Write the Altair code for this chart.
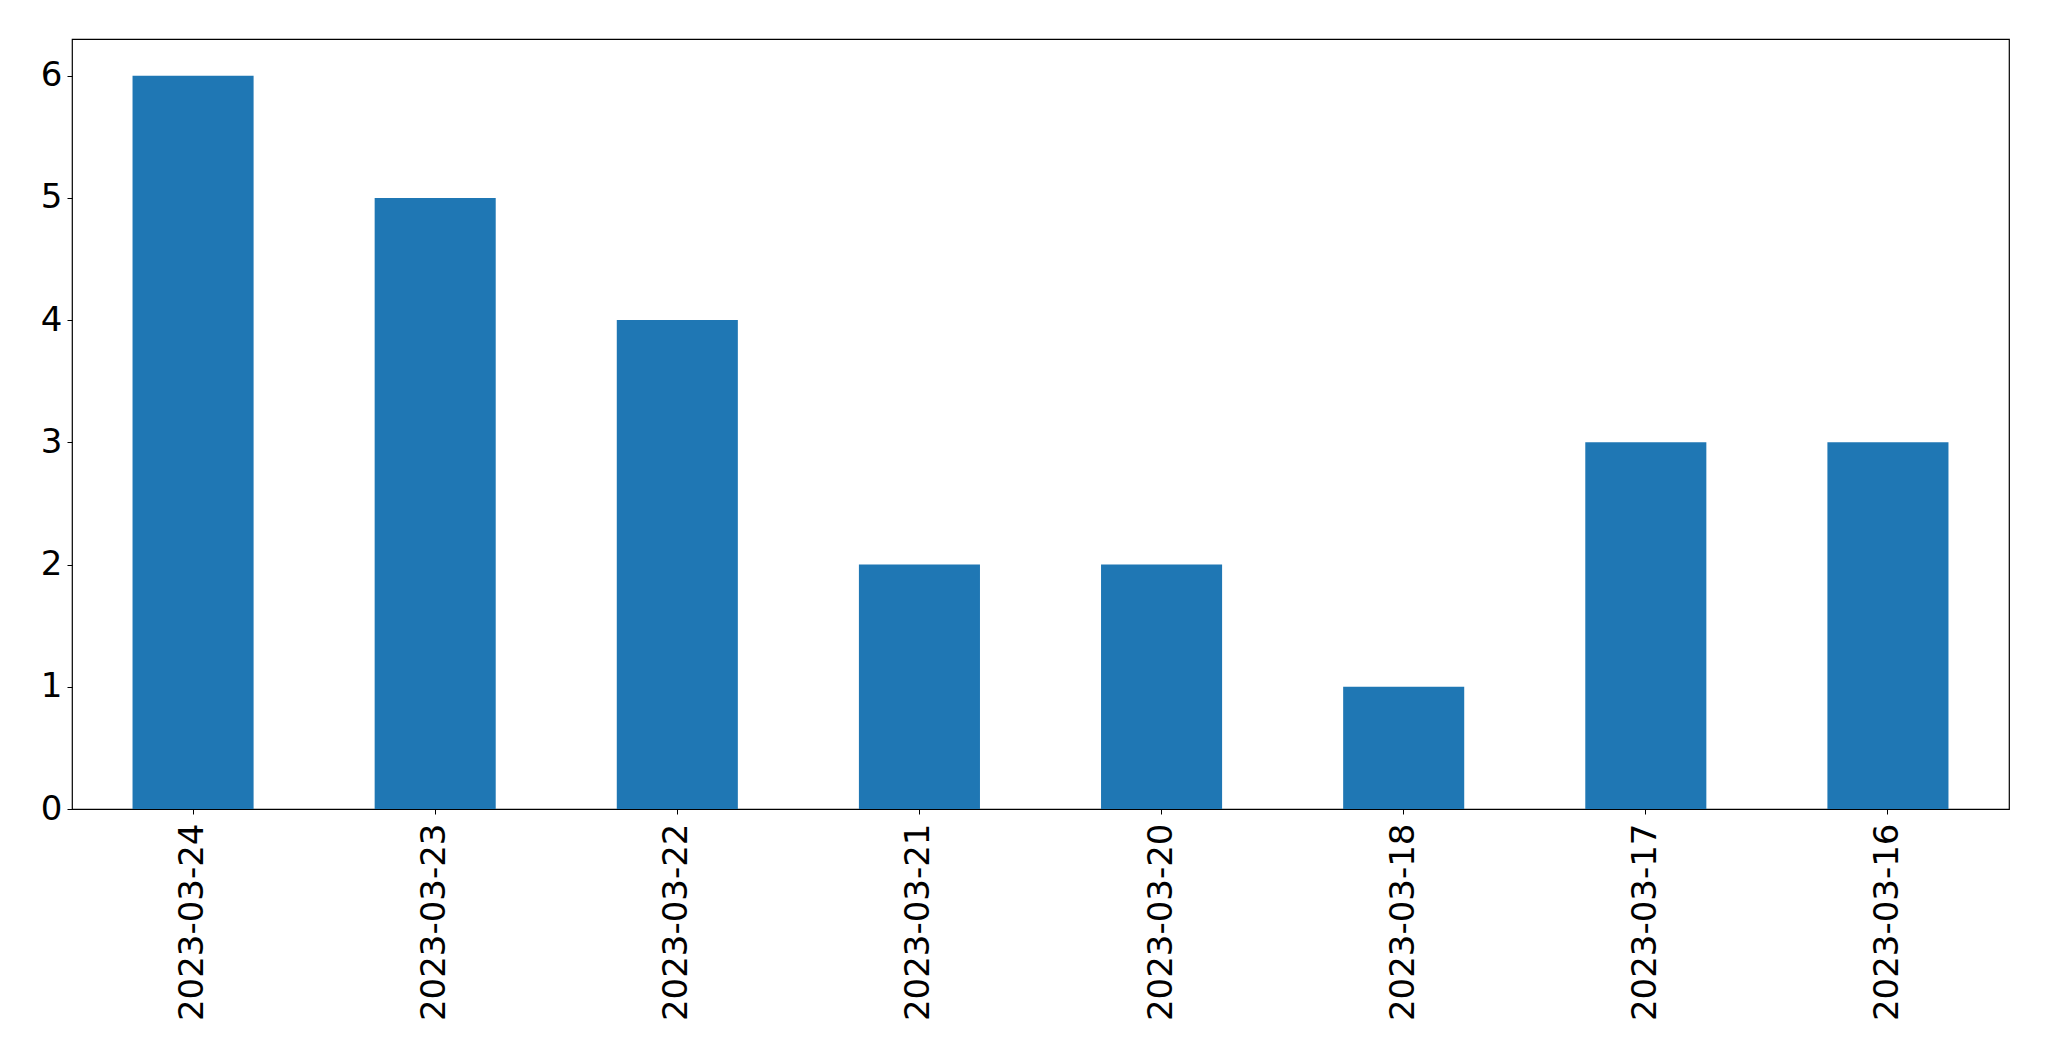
import altair as alt
import pandas as pd

dates = ["2023-03-24", "2023-03-23", "2023-03-22", "2023-03-21",
         "2023-03-20", "2023-03-18", "2023-03-17", "2023-03-16"]
counts = [6, 5, 4, 2, 2, 1, 3, 3]

df = pd.DataFrame({"date": dates, "count": counts})

FS = 34

chart = alt.Chart(df).mark_bar(color="#1f77b4").encode(
    x=alt.X("date:N", sort=dates, title=None,
            scale=alt.Scale(paddingInner=0.5, paddingOuter=0.25),
            axis=alt.Axis(labelAngle=270, labelFontSize=FS, labelFont="DejaVu Sans",
                          labelColor="black", tickColor="black", tickSize=5,
                          domain=False, labelPadding=9, labelAlign="right",
                          labelBaseline="middle", labelLimit=0)),
    y=alt.Y("count:Q", title=None,
            scale=alt.Scale(domain=[0, 6.3], nice=False, zero=True),
            axis=alt.Axis(values=[0, 1, 2, 3, 4, 5, 6], labelFontSize=FS,
                          labelFont="DejaVu Sans", labelColor="black",
                          tickColor="black", tickSize=5, domain=False, grid=False,
                          labelPadding=5, format="d")),
).properties(
    width=1937, height=770,
    autosize=alt.AutoSizeParams(type="none"),
    padding={"left": 64, "top": 31, "right": 30, "bottom": 240},
).configure_view(stroke="black", strokeWidth=1.2)

chart.save("out.html", embed_options={"renderer": "svg", "actions": False})
